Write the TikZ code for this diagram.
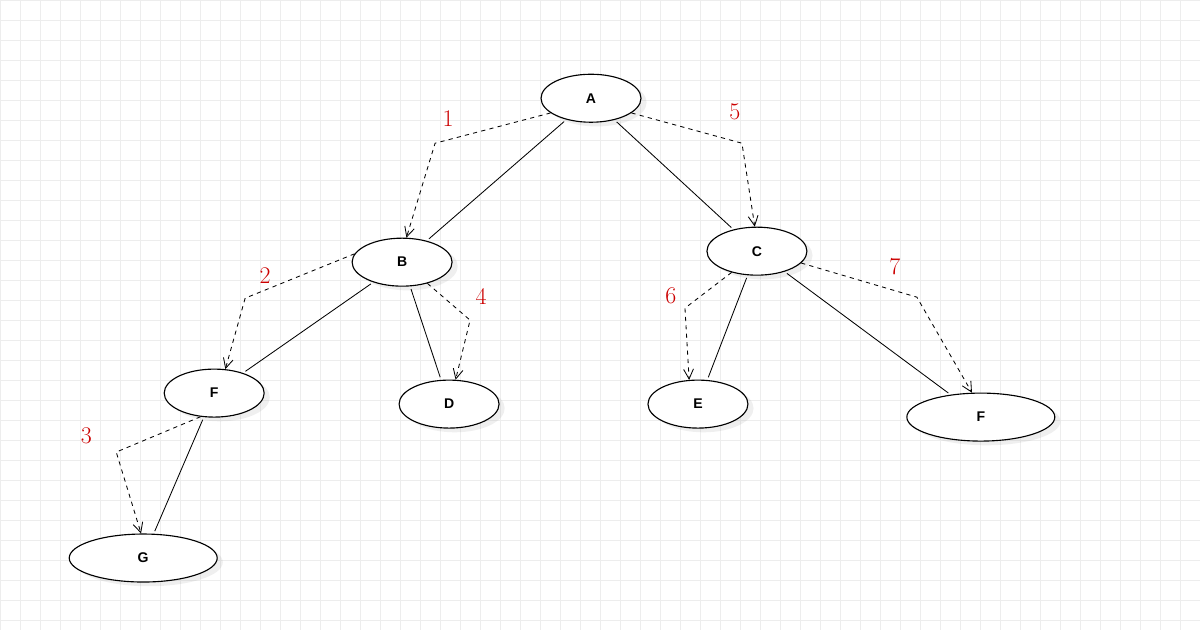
\documentclass[tikz,border=0pt]{standalone}
\usepackage{fontspec}
\setsansfont{Liberation Sans}
\usetikzlibrary{shapes.geometric,shadows,arrows.meta}
\tikzset{
  vtx/.style={ellipse, draw, thick, fill=white, minimum width=2.5cm, minimum height=1.2cm,
    inner sep=0pt, font=\sffamily\bfseries, drop shadow={opacity=0.12, shadow xshift=4pt, shadow yshift=-3pt}},
  wide/.style={minimum width=3.7cm},
  walk/.style={dashed, semithick, -{Straight Barb[length=7pt,width=7pt]}},
  edge/.style={semithick, shorten <=2pt, shorten >=2pt},
  step num/.style={text=red!80!black, font=\fontsize{17}{17}\selectfont}
}
\begin{document}
\begin{tikzpicture}[x=0.025cm, y=-0.025cm]
	% фон
	\fill[white] (0,0) rectangle (1200,630);
	\draw[black!7, step=0.5cm] (0,0) grid (1200,630);
	\useasboundingbox (0,0) rectangle (1200,630);

	% вершины
	\node [vtx] (A) at (591,98) {A};
	\node [vtx] (B) at (402,262) {B};
	\node [vtx] (C) at (757,251) {C};
	\node [vtx] (F1) at (214,393) {F};
	\node [vtx] (D) at (449,404) {D};
	\node [vtx] (E) at (698,404) {E};
	\node [vtx, wide] (F2) at (981,417) {F};
	\node [vtx, wide] (G) at (143,558) {G};

	% рёбра
	\draw [edge] (A) -- (B);
	\draw [edge] (A) -- (C);
	\draw [edge] (B) -- (F1);
	\draw [edge] (B) -- (D);
	\draw [edge] (C) -- (E);
	\draw [edge] (C) -- (F2);
	\draw [edge] (F1) -- (G);

	% обход
	\coordinate (w1) at (435,143);
	\coordinate (w2) at (245,298);
	\coordinate (w3) at (116,452);
	\coordinate (w4) at (470,320);
	\coordinate (w5) at (742,143);
	\coordinate (w6) at (685,308);
	\coordinate (w7) at (917,297);
	\draw [walk] (A.200) -- (w1) -- (B.80);
	\draw [walk] (B.170) -- (w2) -- (F1.65);
	\draw [walk] (F1.240) -- (w3) -- (G.95);
	\draw [walk] (B.-40) -- (w4) -- (D.75);
	\draw [walk] (A.-20) -- (w5) -- (C.95);
	\draw [walk] (C.220) -- (w6) -- (E.110);
	\draw [walk] (C.-15) -- (w7) -- (F2.110);

	% номера шагов
	\node [step num] (n1) at (448,118) {1};
	\node [step num] (n2) at (265,275) {2};
	\node [step num] (n3) at (86,436) {3};
	\node [step num] (n4) at (481,296) {4};
	\node [step num] (n5) at (735,112) {5};
	\node [step num] (n6) at (671,296) {6};
	\node [step num] (n7) at (895,266) {7};
\end{tikzpicture}
\end{document}
